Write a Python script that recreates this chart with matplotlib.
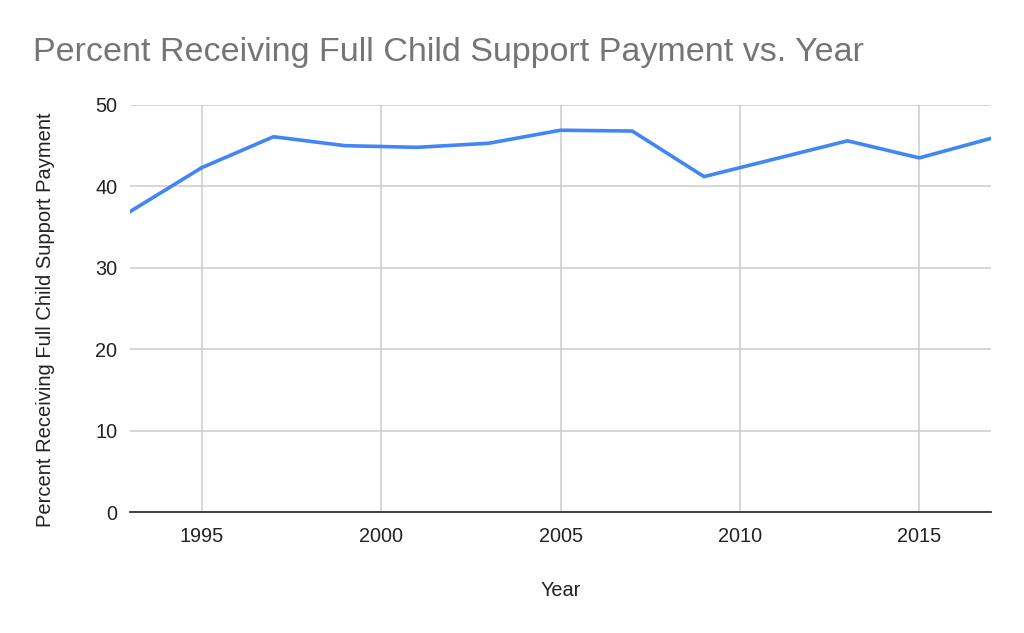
import matplotlib
matplotlib.use("Agg")
import matplotlib.pyplot as plt

plt.rcParams['font.family'] = ['Liberation Sans', 'DejaVu Sans']

# data
years = [1993, 1995, 1997, 1999, 2001, 2003, 2005, 2007, 2009, 2011, 2013, 2015, 2017]
pct_full = [36.9, 42.3, 46.1, 45.0, 44.8, 45.3, 46.9, 46.8, 41.2, 43.4, 45.6, 43.5, 45.9]
x_ticks = [1995, 2000, 2005, 2010, 2015]
y_ticks = [0, 10, 20, 30, 40, 50]

fig = plt.figure(figsize=(10.24, 6.33), dpi=100)
ax = fig.add_axes([130 / 1024, 1 - 512 / 633, (991 - 130) / 1024, (512 - 105) / 633])

ax.plot(years, pct_full, color='#4285f4', linewidth=2.6, solid_joinstyle='round')

ax.set_xlim(1993, 2017)
ax.set_ylim(0, 50)
ax.set_xticks(x_ticks)
ax.set_yticks(y_ticks)
ax.grid(True, color='#cccccc', linewidth=1.1)
ax.set_axisbelow(True)
for s in ['top', 'right', 'left']:
    ax.spines[s].set_visible(False)
ax.spines['bottom'].set_color('#333333')
ax.spines['bottom'].set_linewidth(1.3)
ax.spines['bottom'].set_zorder(3)
ax.tick_params(axis='both', length=0, labelsize=14.3, colors='#222222')
ax.tick_params(axis='x', pad=11)
ax.tick_params(axis='y', pad=9)

ax.set_xlabel('Year', fontsize=14.3, color='#222222', labelpad=25)
ax.set_ylabel('Percent Receiving Full Child Support Payment', fontsize=14.5,
              color='#222222')
ax.yaxis.set_label_coords(-0.0870, 0.472)

fig.text(33 / 1024, 1 - 52 / 633, 'Percent Receiving Full Child Support Payment vs. Year',
         fontsize=24.5, color='#757575', va='center', ha='left')

fig.savefig('out.png', dpi=100, facecolor='white')
